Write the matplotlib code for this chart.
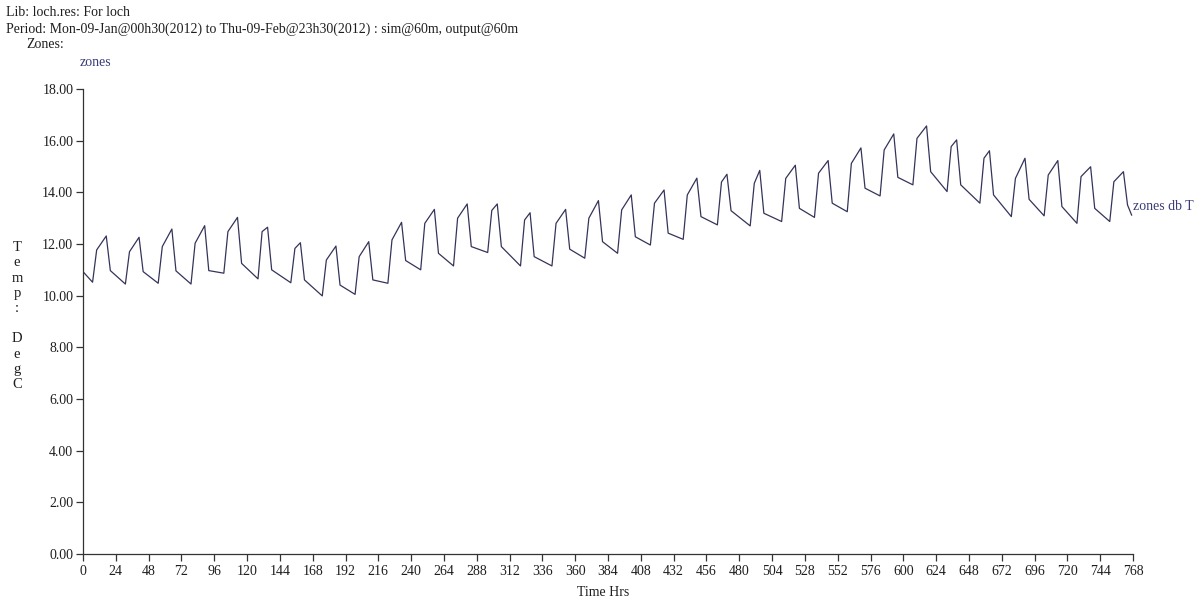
import matplotlib
matplotlib.use("Agg")
import matplotlib.pyplot as plt
import numpy as np

# valores (temperatura zona, grados C)
# cada dia: minimo de la manana, subida rapida, pico de la tarde, caida
day_low = [10.52, 10.45, 10.48, 10.45, 10.87, 10.65, 10.50, 9.99,
           10.05, 10.48, 11.00, 11.15, 11.67, 11.15, 11.15, 11.45,
           11.64, 11.96, 12.18, 12.74, 12.70, 12.87, 13.03, 13.25,
           13.86, 14.29, 14.03, 13.58, 13.06, 13.09, 12.80, 12.87]
day_rise = [11.77, 11.70, 11.90, 12.03, 12.48, 12.48, 11.83, 11.38,
            11.51, 12.16, 12.80, 13.00, 13.30, 12.93, 12.80, 13.00,
            13.32, 13.58, 13.90, 14.40, 14.35, 14.54, 14.74, 15.12,
            15.64, 16.09, 15.77, 15.32, 14.54, 14.67, 14.61, 14.41]
day_peak = [12.31, 12.26, 12.58, 12.71, 13.03, 12.65, 12.05, 11.92,
            12.09, 12.84, 13.34, 13.55, 13.55, 13.21, 13.34, 13.68,
            13.90, 14.09, 14.55, 14.70, 14.85, 15.05, 15.23, 15.72,
            16.26, 16.57, 16.03, 15.61, 15.32, 15.23, 14.99, 14.80]
day_drop = [10.97, 10.93, 10.96, 10.97, 11.25, 11.00, 10.61, 10.41,
            10.61, 11.36, 11.64, 11.90, 11.90, 11.51, 11.80, 12.09,
            12.28, 12.42, 13.06, 13.29, 13.19, 13.38, 13.58, 14.16,
            14.58, 14.80, 14.29, 13.90, 13.73, 13.45, 13.38, 13.51]

# horas del dia de cada punto (laborable / fin de semana)
weekday_hours = [7, 10, 17, 20]
weekend_hours = [8, 11, 15, 18]
weekend_days = [5, 6, 12, 13, 19, 20, 26, 27]

start_hr, start_temp = 0, 10.93
end_hr, end_temp = 767, 13.12

x_ticks = list(range(0, 769, 24))
y_ticks = [0, 2, 4, 6, 8, 10, 12, 14, 16, 18]

# armar la serie
hrs = [start_hr]
temps = [start_temp]
for d in range(len(day_low)):
    if d in weekend_days:
        h = weekend_hours
    else:
        h = weekday_hours
    vals = [day_low[d], day_rise[d], day_peak[d], day_drop[d]]
    for k in range(4):
        hrs.append(24 * d + h[k])
        temps.append(vals[k])
hrs.append(end_hr)
temps.append(end_temp)

plt.rcParams['font.family'] = ['Liberation Serif', 'DejaVu Serif']
text_col = '#1e1e1e'
blue_col = '#3b3b78'

fig = plt.figure(figsize=(11.96, 6.05), dpi=100)
ax = fig.add_axes([83 / 1196, 51 / 605, 1050 / 1196, 465 / 605])

ax.plot(hrs, temps, color='#34345a', linewidth=0.9)

ax.set_xlim(0, 768)
ax.set_ylim(0, 18)
ax.set_xticks(x_ticks)
ax.set_xticklabels([str(t) for t in x_ticks])
ax.set_yticks(y_ticks)
ax.set_yticklabels(['%.2f' % v for v in y_ticks])

for s in ['top', 'right']:
    ax.spines[s].set_visible(False)
for s in ['left', 'bottom']:
    ax.spines[s].set_color('#333333')
    ax.spines[s].set_linewidth(0.9)
ax.tick_params(axis='both', direction='out', length=5, width=0.9,
               color='#333333', labelsize=10, labelcolor=text_col)
ax.tick_params(axis='y', pad=2)
ax.tick_params(axis='x', pad=3)

# textos de cabecera
fig.text(6 / 1196, 1 - 12 / 605, 'Lib: loch.res: For loch', fontsize=10,
         color=text_col, va='center', ha='left')
fig.text(6 / 1196, 1 - 29 / 605,
         'Period: Mon-09-Jan@00h30(2012) to Thu-09-Feb@23h30(2012) : sim@60m, output@60m',
         fontsize=10, color=text_col, va='center', ha='left')
fig.text(26 / 1196, 1 - 45 / 605, 'Zones:', fontsize=10, color=text_col,
         va='center', ha='left')
fig.text(80 / 1196, 1 - 62 / 605, 'zones', fontsize=10, color=blue_col,
         va='center', ha='left')
fig.text(1133 / 1196, 1 - 207 / 605, 'zones db T', fontsize=10, color=blue_col,
         va='center', ha='left')

# eje y con letras apiladas
fig.text(17 / 1196, 1 - 316 / 605, 'T\ne\nm\np\n:\n\nD\ne\ng\nC', fontsize=10.5,
         color=text_col, va='center', ha='center', linespacing=1.22)
fig.text(603 / 1196, 1 - 592 / 605, 'Time Hrs', fontsize=10, color=text_col,
         va='center', ha='center')

fig.savefig('out.png', dpi=100)
